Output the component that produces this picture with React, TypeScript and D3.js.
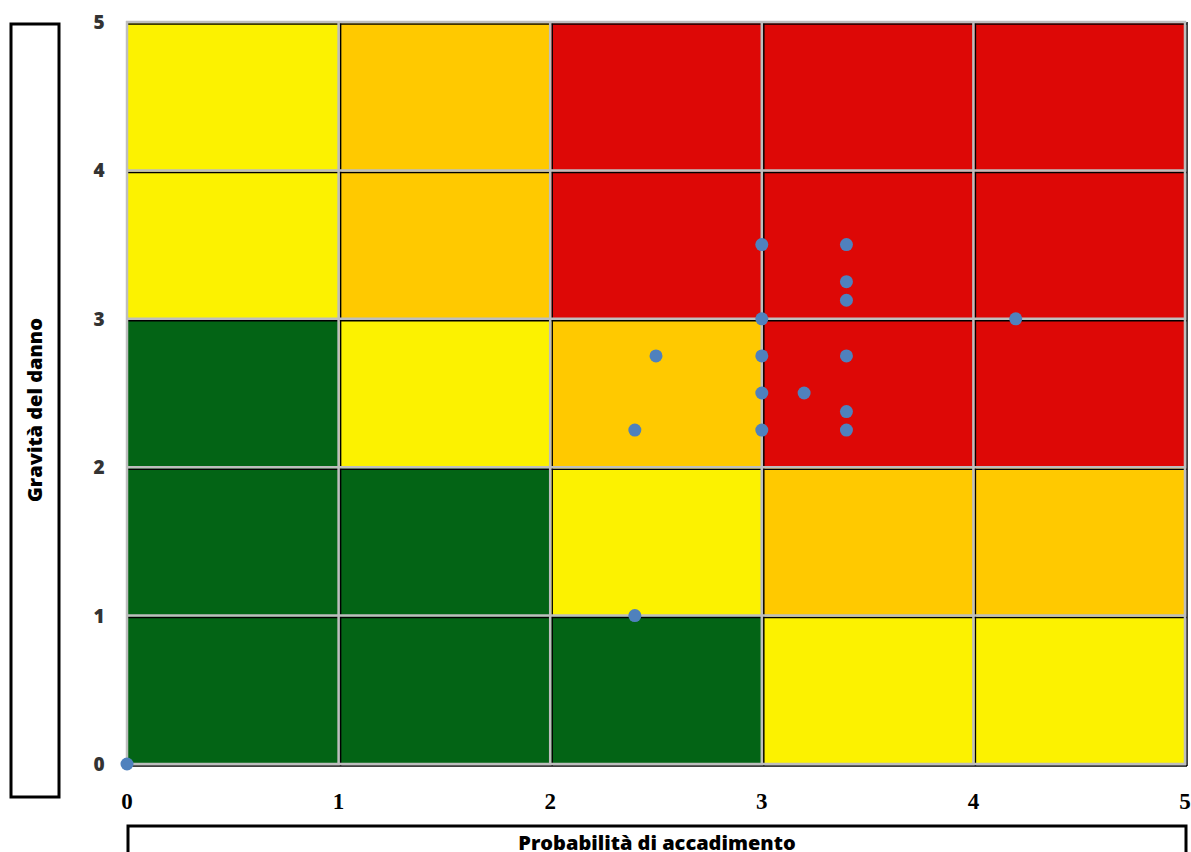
import React, { useEffect, useRef } from 'react';
import * as d3 from 'd3';

// risk matrix: rows from bottom (gravità 0-1) to top (4-5), columns probabilità 0..5
const cellRows: string[][] = [
  ['G', 'G', 'G', 'Y', 'Y'],
  ['G', 'G', 'Y', 'O', 'O'],
  ['G', 'Y', 'O', 'R', 'R'],
  ['Y', 'O', 'R', 'R', 'R'],
  ['Y', 'O', 'R', 'R', 'R'],
];

const probabilita = [0, 2.4, 2.4, 2.5, 3, 3, 3, 3, 3, 3.2, 3.4, 3.4, 3.4, 3.4, 3.4, 3.4, 4.2];
const gravita = [0, 1, 2.25, 2.75, 3.5, 3, 2.75, 2.5, 2.25, 2.5, 3.5, 3.25, 3.125, 2.75, 2.375, 2.25, 3];

const ticks = [0, 1, 2, 3, 4, 5];

const colors: Record<string, string> = {
  G: '#036415',
  Y: '#FCF200',
  O: '#FFC900',
  R: '#DD0806',
};

const App: React.FC = () => {
  const svgRef = useRef<SVGSVGElement>(null);
  const width = 1191;
  const height = 852;

  useEffect(() => {
    const svg = d3.select(svgRef.current);
    svg.selectAll('*').remove();

    const x = d3.scaleLinear().domain([0, 5]).range([127, 1185]);
    const y = d3.scaleLinear().domain([0, 5]).range([764, 22]);

    // cells
    const cells: { c: number; r: number; k: string }[] = [];
    cellRows.forEach((row, r) => row.forEach((k, c) => cells.push({ c, r, k })));

    svg.append('g')
      .selectAll('rect')
      .data(cells)
      .enter().append('rect')
      .attr('x', d => x(d.c))
      .attr('y', d => y(d.r + 1))
      .attr('width', d => x(d.c + 1) - x(d.c))
      .attr('height', d => y(d.r) - y(d.r + 1))
      .attr('fill', d => colors[d.k]);

    // black shadow lines next to the gray grid
    const grid = svg.append('g');
    ticks.filter(t => t > 0).forEach(t => {
      grid.append('line')
        .attr('x1', x(t) + 2).attr('x2', x(t) + 2)
        .attr('y1', y(5)).attr('y2', y(0) + 2)
        .attr('stroke', '#000').attr('stroke-width', 1.5);
    });
    ticks.filter(t => t < 5).forEach(t => {
      grid.append('line')
        .attr('x1', x(0)).attr('x2', x(5) + 2)
        .attr('y1', y(t) + 2).attr('y2', y(t) + 2)
        .attr('stroke', '#000').attr('stroke-width', 1.5);
    });
    grid.append('line')
      .attr('x1', x(0)).attr('x2', x(5) + 2)
      .attr('y1', y(5) + 2).attr('y2', y(5) + 2)
      .attr('stroke', '#000').attr('stroke-width', 1.5);

    // gray grid
    ticks.forEach(t => {
      grid.append('line')
        .attr('x1', x(t)).attr('x2', x(t))
        .attr('y1', y(5) - 1).attr('y2', y(0) + 1)
        .attr('stroke', '#BEBEBE').attr('stroke-width', 2.5);
      grid.append('line')
        .attr('x1', x(0) - 1).attr('x2', x(5) + 1)
        .attr('y1', y(t)).attr('y2', y(t))
        .attr('stroke', '#BEBEBE').attr('stroke-width', 2.5);
    });

    // points
    svg.append('g')
      .selectAll('circle')
      .data(probabilita.map((p, i) => [p, gravita[i]]))
      .enter().append('circle')
      .attr('cx', d => x(d[0]))
      .attr('cy', d => y(d[1]))
      .attr('r', 6.5)
      .attr('fill', '#4F81BD');

    // y tick labels
    svg.append('g')
      .selectAll('text')
      .data(ticks)
      .enter().append('text')
      .attr('x', 99)
      .attr('y', d => y(d) + 7)
      .attr('text-anchor', 'middle')
      .attr('font-family', '"Open Sans", sans-serif')
      .attr('font-weight', 800)
      .attr('font-size', 19)
      .attr('fill', '#333')
      .text(d => d);

    // x tick labels
    svg.append('g')
      .selectAll('text')
      .data(ticks)
      .enter().append('text')
      .attr('x', d => x(d))
      .attr('y', 809)
      .attr('text-anchor', 'middle')
      .attr('font-family', '"Liberation Serif", serif')
      .attr('font-weight', 'bold')
      .attr('font-size', 23)
      .attr('fill', '#000')
      .text(d => d);

    // axis title boxes
    svg.append('rect')
      .attr('x', 11).attr('y', 24).attr('width', 48).attr('height', 773)
      .attr('fill', 'none').attr('stroke', '#000').attr('stroke-width', 3);
    svg.append('text')
      .attr('transform', 'translate(42,410) rotate(-90)')
      .attr('text-anchor', 'middle')
      .attr('font-family', '"Open Sans", sans-serif')
      .attr('font-weight', 800)
      .attr('font-size', 20)
      .attr('fill', '#000')
      .text('Gravità del danno');

    svg.append('rect')
      .attr('x', 128).attr('y', 826).attr('width', 1058).attr('height', 40)
      .attr('fill', 'none').attr('stroke', '#000').attr('stroke-width', 3);
    svg.append('text')
      .attr('x', 657).attr('y', 850)
      .attr('text-anchor', 'middle')
      .attr('font-family', '"Open Sans", sans-serif')
      .attr('font-weight', 800)
      .attr('font-size', 20)
      .attr('fill', '#000')
      .text('Probabilità di accadimento');
  }, []);

  return (
    <div style={{ position: 'absolute', left: 0, top: 0 }}>
      <svg ref={svgRef} width={width} height={height} style={{ display: 'block', backgroundColor: 'white' }}></svg>
    </div>
  );
};

export default App;
